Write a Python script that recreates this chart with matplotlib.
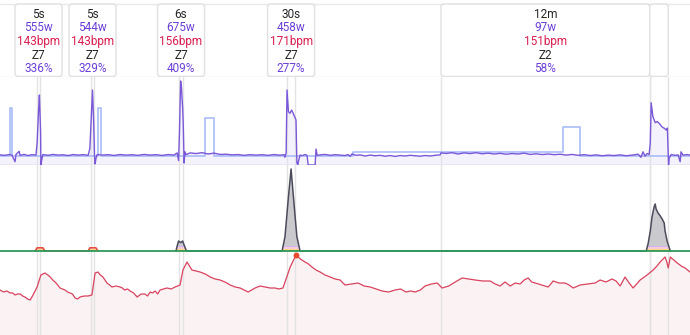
import numpy as np
import matplotlib
matplotlib.use("Agg")
import matplotlib.pyplot as plt
from matplotlib.patches import FancyBboxPatch

plt.rcParams['font.family'] = ['Roboto', 'DejaVu Sans']

# ---------------- data ----------------
T_MAX = 2380  # seconds shown

# intervals (seconds)
iv_start = [128, 314, 618, 990, 1521, 2241]
iv_end = [138, 324, 631, 1018, 2241, 2305]
iv_dur = ['5s', '5s', '6s', '30s', '12m', '']
iv_watts = ['555w', '544w', '675w', '458w', '97w', '']
iv_bpm = ['143bpm', '143bpm', '156bpm', '171bpm', '151bpm', '']
iv_zone = ['Z7', 'Z7', 'Z7', 'Z7', 'Z2', '']
iv_pct = ['336%', '329%', '409%', '277%', '58%', '']

# power (w)
pw_t = [0, 17, 31, 41, 52, 55, 66, 69, 83, 97, 110, 124, 128, 133, 136, 140, 141, 145, 148,
        166, 183, 200, 217, 235, 252, 269, 286, 304, 310, 316, 319, 323, 326, 328, 331, 335,
        352, 373, 393, 414, 435, 455, 476, 497, 518, 538, 559, 580, 600, 611, 616, 619, 623,
        626, 630, 632, 635, 638, 642, 656, 676, 697, 718, 738, 759, 780, 800, 821, 842, 863,
        883, 904, 925, 945, 966, 980, 983, 987, 990, 995, 1000, 1006, 1012, 1018, 1021, 1024,
        1027, 1030, 1035, 1042, 1052, 1059, 1063, 1087, 1090, 1094, 1104, 1121, 1139, 1156,
        1173, 1190, 1200, 1208, 1214, 1228, 1242, 1259, 1277, 1294, 1311, 1328, 1346, 1363,
        1380, 1397, 1415, 1432, 1449, 1466, 1484, 1501, 1518, 1521, 1539, 1559, 1580, 1601,
        1622, 1642, 1663, 1684, 1704, 1725, 1746, 1766, 1787, 1808, 1829, 1849, 1870, 1891,
        1911, 1932, 1953, 1973, 1994, 2015, 2036, 2056, 2077, 2098, 2118, 2139, 2160, 2180,
        2201, 2211, 2218, 2225, 2232, 2239, 2243, 2246, 2252, 2260, 2267, 2275, 2283, 2291,
        2298, 2302, 2306, 2308, 2315, 2329, 2339, 2346, 2349, 2356, 2370, 2380]
pw_w = [92, 88, 95, 90, 30, 95, 125, 88, 96, 86, 94, 90, 200, 500, 636, 300, 0, 60, 95,
        88, 96, 90, 93, 86, 95, 90, 94, 88, 150, 520, 682, 400, 80, 10, 60, 95,
        90, 94, 87, 95, 90, 93, 88, 96, 90, 94, 87, 95, 90, 110, 40, 300, 764,
        700, 520, 380, 18, 120, 95, 110, 104, 112, 100, 108, 96, 98, 92, 95, 88, 94,
        90, 93, 88, 95, 89, 94, 70, 110, 682, 485, 470, 500, 465, 427, 409, 20,
        0, 40, 90, 85, 95, 88, 0, 0, 145, 88, 92, 96, 88, 94,
        90, 86, 95, 80, 100, 88, 92, 82, 90, 84, 88, 80, 86, 78,
        86, 82, 88, 84, 80, 86, 82, 88, 92, 110, 105, 112, 100, 110,
        104, 112, 102, 108, 100, 106, 98, 104, 100, 108, 96, 102, 95, 100,
        94, 98, 90, 96, 88, 94, 86, 92, 84, 90, 86, 92, 84, 90,
        98, 70, 120, 80, 105, 95, 200, 566, 440, 385, 395, 375, 348, 334,
        318, 336, 0, 60, 95, 88, 92, 30, 120, 90, 95, 90]

# target power (step)
tg_t = [0, 34, 43, 338, 348, 707, 738, 1218, 1942, 2001, 2380]
tg_w = [82, 518, 82, 518, 82, 427, 82, 118, 345, 82, 82]

# W' expended
wb_t = [0, 121, 128, 148, 155, 304, 310, 331, 338, 607, 612, 616, 623, 630, 635, 643,
        973, 983, 995, 1004, 1012, 1024, 1035, 2229, 2236, 2243, 2249, 2256, 2260, 2263,
        2270, 2277, 2284, 2291, 2294, 2301, 2312, 2380]
wb_v = [0, 0, 0.8, 0.8, 0, 0, 0.8, 0.8, 0, 0, 1.5, 2.5, 2.1, 2.5, 1.5, 0,
        0, 3.6, 13.6, 20.5, 13.6, 3.6, 0, 0, 2, 5, 8.5, 11, 11.75, 10.5,
        9.5, 8.8, 8, 7, 5, 2.5, 0, 0]
gr_t = [0, 1521, 2312, 2380]
gr_v = [-0.12, 0.05, -0.08, -0.08]

# heart rate (bpm)
hr_t = [0, 12, 24, 35, 44, 52, 61, 70, 78, 86, 95, 104, 114, 128, 141, 155, 165, 173, 182,
        190, 199, 207, 216, 224, 233, 242, 250, 259, 268, 276, 290, 304, 317, 328, 338, 346,
        355, 362, 369, 378, 386, 400, 414, 422, 430, 440, 449, 461, 473, 487, 500, 509, 518,
        526, 535, 544, 552, 564, 576, 590, 604, 621, 631, 645, 662, 676, 690, 708, 725, 742,
        759, 776, 794, 811, 828, 842, 856, 868, 880, 897, 914, 932, 949, 962, 976, 1001, 1021,
        1036, 1052, 1064, 1076, 1090, 1104, 1121, 1139, 1156, 1173, 1190, 1212, 1235, 1256,
        1277, 1297, 1318, 1340, 1363, 1382, 1400, 1416, 1432, 1450, 1466, 1488, 1508, 1525,
        1548, 1570, 1594, 1616, 1639, 1665, 1691, 1708, 1725, 1742, 1760, 1777, 1794, 1808,
        1822, 1834, 1846, 1868, 1891, 1908, 1928, 1949, 1963, 1977, 2001, 2027, 2053, 2070,
        2090, 2111, 2125, 2139, 2156, 2170, 2184, 2196, 2208, 2232, 2253, 2266, 2277, 2294,
        2300, 2305, 2312, 2324, 2336, 2350, 2363, 2380]
hr_b = [137, 135, 136, 134, 134, 132, 133, 133, 131, 130, 128, 127, 132, 140, 152, 154, 152,
        150, 147, 145, 142, 139, 138, 137, 135, 134, 133, 129, 128, 130, 131, 131, 132, 154,
        155, 152, 150, 147, 144, 142, 140, 141, 140, 139, 137, 138, 136, 134, 130, 133, 133,
        131, 135, 134, 136, 133, 137, 138, 139, 138, 140, 142, 157, 165, 157, 156, 155, 153,
        150, 148, 147, 145, 142, 140, 139, 137, 135, 137, 139, 141, 140, 139, 139, 138, 139,
        160, 172, 168, 165, 163, 160, 157, 155, 152, 150, 148, 147, 142, 143, 144, 141, 140,
        138, 136, 135, 137, 138, 135, 136, 135, 137, 141, 143, 144, 139, 141, 145, 149, 148,
        147, 146, 146, 143, 141, 145, 141, 144, 143, 147, 149, 145, 144, 142, 140, 146, 144,
        144, 142, 139, 142, 143, 144, 147, 145, 148, 146, 141, 150, 144, 139, 143, 147, 152,
        157, 161, 165, 170, 165, 159, 170, 167, 164, 161, 159, 155]
hr_peak_t, hr_peak_b = 1021, 172

# ---------------- layout ----------------
W, H = 690, 335
fig = plt.figure(figsize=(W / 100, H / 100), dpi=100)
fig.patch.set_facecolor('white')


def band(top, bottom):
    ax = fig.add_axes([0, 1 - bottom / H, 1, (bottom - top) / H])
    ax.set_xlim(0, T_MAX)
    ax.axis('off')
    ax.patch.set_alpha(0)
    return ax


ax_top = band(0, 77)
ax_p = band(77, 165)
ax_w = band(165, 252)
ax_h = band(252, 335)

GRID = '#e3e3e3'
for ax in (ax_p, ax_w, ax_h):
    for s, e in zip(iv_start, iv_end):
        ax.axvline(s, color=GRID, lw=1, zorder=1.5)
        ax.axvline(e, color=GRID, lw=1, zorder=1.5)

# --- top label boxes ---
ax_top.set_ylim(77, 0)
ax_top.axhline(3.5, color='#e9e9e9', lw=1)
ax_top.axhline(76.5, color='#e6e6e6', lw=1)
px_s = T_MAX / W
BOXW = 47 * px_s
for i, (s, e) in enumerate(zip(iv_start, iv_end)):
    cx = (s + e) / 2
    if (e - s) < BOXW and iv_dur[i]:
        x0, x1 = cx - BOXW / 2, cx + BOXW / 2
    else:
        x0, x1 = s, e
    box = FancyBboxPatch((x0, 4), x1 - x0, 72.5,
                         boxstyle="round,pad=0,rounding_size=%f" % (3 * px_s),
                         mutation_aspect=1 / px_s,
                         facecolor='white', edgecolor='#e0e0e0', lw=1, zorder=2)
    ax_top.add_patch(box)
    fs = 8.5
    ax_top.text(cx, 17.5, iv_dur[i], ha='center', va='baseline', fontsize=fs, color='#262626', zorder=3)
    ax_top.text(cx, 31.0, iv_watts[i], ha='center', va='baseline', fontsize=fs, color='#6b3fd6', zorder=3)
    ax_top.text(cx, 45.0, iv_bpm[i], ha='center', va='baseline', fontsize=fs, color='#d81f4f', zorder=3)
    ax_top.text(cx, 58.6, iv_zone[i], ha='center', va='baseline', fontsize=fs, color='#262626', zorder=3)
    ax_top.text(cx, 72.4, iv_pct[i], ha='center', va='baseline', fontsize=fs, color='#6b3fd6', zorder=3)

# --- power ---
ax_p.set_ylim(0, 800)
ax_p.fill_between(pw_t, 0, pw_w, color='#f4f2fd', lw=0, zorder=1)
ax_p.plot(tg_t, tg_w, drawstyle='steps-post', color='#a9bcf6', lw=1.2, zorder=2)
ax_p.plot(pw_t, pw_w, color='#7a58d8', lw=1.0, zorder=3)
ax_p.axhline(0, color='#e6e4ee', lw=1.2, zorder=2)

# --- W' ---
ax_w.set_ylim(-0.25, 21.5)
wt = np.array(wb_t)
wv = np.array(wb_v)
poly = ax_w.fill_between(wt, 0, wv, color='#c9c9ce', lw=0, zorder=2)
clip_path = poly.get_paths()[0]
bands = [(0.0, 0.3, '#f5a23a'), (0.3, 0.6, '#f8dc84'), (0.6, 0.9, '#f7cadb'), (0.9, 1.3, '#cbb8f0')]
for lo, hi, c in bands:
    sp = ax_w.axhspan(lo, hi, color=c, lw=0, zorder=2.1)
    sp.set_clip_path(clip_path, ax_w.transData)
near = (wv > 0) | (np.roll(wv, 1) > 0) | (np.roll(wv, -1) > 0)
dark = np.ma.masked_where(~(near & (wt > 400)), wv)
red = np.ma.masked_where(~(near & (wt < 400)), wv)
ax_w.plot(wt, dark, color='#4b4b5c', lw=1.1, zorder=3)
ax_w.plot(wt, red, color='#e8453c', lw=1.1, zorder=3)
ax_w.plot(gr_t, gr_v, drawstyle='steps-post', color='#2f9a5c', lw=1.3, zorder=3.5)

# --- heart rate ---
ax_h.set_ylim(92, 175)
ax_h.fill_between(hr_t, 92, hr_b, color='#fbf2f3', lw=0, zorder=1)
ax_h.plot(hr_t, hr_b, color='#d9435f', lw=0.9, zorder=3)
ax_h.plot([hr_peak_t], [hr_peak_b], 'o', ms=3.2, color='#ea4a2c', zorder=4)

fig.savefig('out.png', dpi=100, facecolor='white')
